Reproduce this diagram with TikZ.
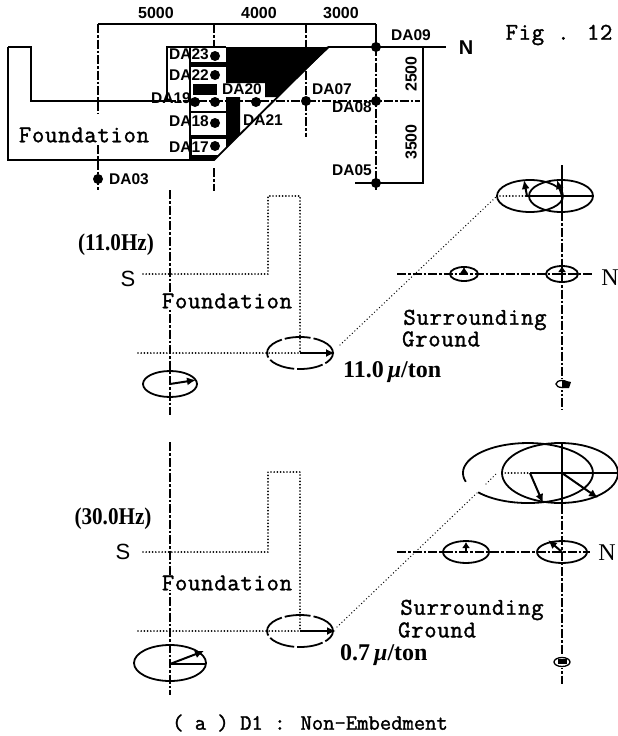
\documentclass[tikz,border=0pt]{standalone}
\usepackage{fontspec}
\setmainfont{Liberation Serif}
\setsansfont{Liberation Sans}
\newfontfamily\typew[FakeBold=1.5]{Latin Modern Mono}
\newfontfamily\typewide[LetterSpace=3,FakeBold=1.5]{Latin Modern Mono}
\usetikzlibrary{arrows.meta}
\tikzset{
  x=1pt,y=-1pt,
  ink/.style={line width=1.8pt,black},
  axis/.style={ink,dash pattern=on 9pt off 2pt on 2.5pt off 2pt},
  dotline/.style={line width=1.9pt,line cap=round,dash pattern=on 0pt off 3.2pt},
  fine/.style={line width=1.4pt,line cap=round,dash pattern=on 0pt off 3.4pt},
  arr/.style={line width=2pt,-{Latex[length=9pt,width=8pt]}},
  arrs/.style={line width=2pt,-{Latex[length=6pt,width=8pt]}},
  pt/.style={circle,fill=black,inner sep=0,minimum size=10pt},
  da/.style={font=\sffamily\bfseries\fontsize{15.5}{16}\selectfont,inner sep=0},
  dim/.style={font=\sffamily\bfseries\fontsize{16}{16}\selectfont,inner sep=0},
  tw/.style={font=\typew\fontsize{22}{22}\selectfont,inner sep=0},
  twd/.style={font=\typewide\fontsize{24}{24}\selectfont,inner sep=0},
  twf/.style={font=\typewide\fontsize{24}{24}\selectfont,inner sep=0,fill=white},
  compass/.style={font=\sffamily\fontsize{22}{22}\selectfont,inner sep=0},
  northlab/.style={font=\fontsize{24}{24}\selectfont,inner sep=0},
  hz/.style={font=\bfseries\fontsize{24}{24}\selectfont,inner sep=0,xscale=.88},
  amp/.style={font=\bfseries\fontsize{24}{24}\selectfont,inner sep=0,anchor=west},
  gapell/.style={ink,dash pattern=on 26pt off 3pt},
}
\begin{document}
\begin{tikzpicture}
\useasboundingbox (0,0) rectangle (618,736);
% ---------- plan
\fill[black] (226,47) -- (330,47) -- (277,97) -- (265,97) -- (265,83) -- (226,83) -- cycle;
\fill[black] (193,84) rectangle (217,95);
\fill[black] (226,97) -- (240,97) -- (240,134) -- (214,160) -- (190,160) -- (190,135) -- (226,135) -- cycle;
\fill[black] (190,62) rectangle (226,67);
\fill[white] (192,139) rectangle (226,155);
\draw[ink] (8,47) -- (31,47) -- (31,101) -- (167,101) -- (167,47) -- (226,47);
\draw[ink] (8,47) -- (8,160) -- (214,160) -- (328,47);
\draw[ink] (190,47) -- (190,160);
\draw[ink] (190,112) -- (226,112);
\draw[ink] (98,24) -- (376,24);
\draw[ink] (376,24) -- (376,47);
\draw[axis] (98,24) -- (98,113);
\draw[axis] (214,24) -- (214,47);
\draw[axis] (306,24) -- (306,137);
\draw[axis] (376,47) -- (376,190);
\draw[axis] (98,145) -- (98,191);
\draw[axis] (214,168) -- (214,191);
\draw[ink] (328,47) -- (446,47);
\draw[axis] (167,101) -- (420,101);
\draw[ink] (423,47) -- (423,183) -- (355,183);
\foreach \n/\x/\y in {a/195/102,b/215/102,c/256/102,d/306/101,e/376/101,f/376/47,g/376/183,h/98/179,i/215/56,j/215/75,k/215/123,l/215/146}
  \node[pt] (dot\n) at (\x,\y) {};
\node[dim] (t5000) at (156,13) {5000};
\node[dim] (t4000) at (259,13) {4000};
\node[dim] (t3000) at (341,13) {3000};
\node[dim,rotate=90] (t2500) at (411,74) {2500};
\node[dim,rotate=90] (t3500) at (411,142) {3500};
\node[da] (da09) at (411,35) {DA09};
\node[da] (da07) at (332,89) {DA07};
\node[da] (da08) at (352,107) {DA08};
\node[da] (da05) at (352,170) {DA05};
\node[da] (da03) at (129,179) {DA03};
\node[da] (da23) at (189,54) {DA23};
\node[da] (da22) at (189,75) {DA22};
\node[da] (da19) at (171,98) {DA19};
\node[da] (da20) at (242,89) {DA20};
\node[da] (da21) at (263,120) {DA21};
\node[da] (da18) at (189,121) {DA18};
\node[da] (da17) at (189,147) {DA17};
\node[font=\sffamily\bfseries\fontsize{20}{20}\selectfont,inner sep=0] (n0) at (466,48) {N};
\node[twd] (fig) at (559,35) {Fig . 12};
\node[twf] (found0) at (84,135) {Foundation};
% ---------- 11 Hz panel
\draw[axis] (170,190) -- (170,415);
\draw[dotline] (143,274) -- (268,274) -- (268,196) -- (300,196) -- (300,353);
\draw[dotline] (138,353) -- (300,353);
\draw[fine] (340,345) -- (497,196);
\draw[gapell] (300,353) ellipse [x radius=33pt,y radius=16pt];
\draw[arr] (300,353) -- (335,353);
\draw[ink] (170,384) ellipse [x radius=27pt,y radius=13pt];
\draw[arr] (170,384) -- (196,380);
\node[twf] (found1) at (227,301) {Foundation};
\node[compass] (s1) at (128,279) {S};
\node[hz] (hz1) at (116,245) {(11.0Hz)};
\node[amp] (amp1) at (343,372) {11.0\,\textit{μ}/ton};
\node[twd] (sur1) at (475,320) {Surrounding};
\node[twd] (gr1) at (441,339) {Ground};
\draw[ink] (530,196) ellipse [x radius=33pt,y radius=16pt];
\draw[ink] (561,196) ellipse [x radius=32pt,y radius=16pt];
\draw[dotline] (500,196) -- (526,196);
\draw[ink] (526,196) -- (593,196);
\draw[arr] (527,196) -- (524,180);
\draw[arr] (562,196) -- (557,180);
\draw[ink] (562,165) -- (562,212);
\draw[axis] (562,212) -- (562,410);
\draw[axis] (397,274) -- (592,274);
\draw[ink] (464,274) ellipse [x radius=14pt,y radius=7pt];
\draw[arrs] (464,274) -- (464,267);
\draw[ink] (562,274) ellipse [x radius=16pt,y radius=8pt];
\draw[arrs] (562,274) -- (562,266);
\node[northlab] (n1) at (610,278) {N};
\fill[white] (556,379) rectangle (569,390);
\draw[ink,line width=1.3pt] (562,384) ellipse [x radius=6pt,y radius=3.5pt];
\fill[black] (562,380) -- (571,382) -- (569,388) -- (562,388) -- cycle;
% ---------- 30 Hz panel
\draw[axis] (170,442) -- (170,695);
\draw[dotline] (143,552) -- (268,552) -- (268,472) -- (300,472) -- (300,631);
\draw[dotline] (138,631) -- (300,631);
\draw[fine] (337,627) -- (478,492);
\draw[fine] (486,484) -- (497,473);
\draw[gapell] (300,631) ellipse [x radius=33pt,y radius=16pt];
\draw[arr] (300,631) -- (336,631);
\draw[ink] (170,663) ellipse [x radius=36pt,y radius=18pt];
\draw[ink] (170,664) -- (205,664);
\draw[arr] (170,664) -- (204,651);
\node[twf] (found2) at (227,583) {Foundation};
\node[compass] (s2) at (123,552) {S};
\node[hz] (hz2) at (113,519) {(30.0Hz)};
\node[amp] (amp2) at (340,655) {0.7\,\textit{μ}/ton};
\node[twd] (sur2) at (472,610) {Surrounding};
\node[twd] (gr2) at (437,630) {Ground};
\draw[ink] (465.8,481.8) arc [start angle=197,end angle=-140,x radius=65pt,y radius=30pt];
\draw[ink] (560,473) ellipse [x radius=58pt,y radius=30pt];
\draw[dotline] (502,473) -- (530,473);
\draw[ink] (530,473) -- (618,473);
\draw[arr] (530,473) -- (543,503);
\draw[arr] (562,473) -- (598,498);
\draw[ink] (562,442) -- (562,505);
\draw[axis] (562,505) -- (562,684);
\draw[axis] (397,552) -- (590,552);
\draw[ink] (466,552) ellipse [x radius=23pt,y radius=11pt];
\draw[arrs] (466,552) -- (466,542);
\draw[ink] (562,552) ellipse [x radius=25pt,y radius=11pt];
\draw[arr] (562,552) -- (548,540);
\node[northlab] (n2) at (607,553) {N};
\fill[white] (554,656) rectangle (571,668);
\draw[ink,line width=1.3pt] (562,662) ellipse [x radius=8pt,y radius=4.5pt];
\fill[black] (558,659) rectangle (567,664);
\node[tw] (cap) at (310,723) {( a ) D1 : Non-Embedment};
\end{tikzpicture}
\end{document}
